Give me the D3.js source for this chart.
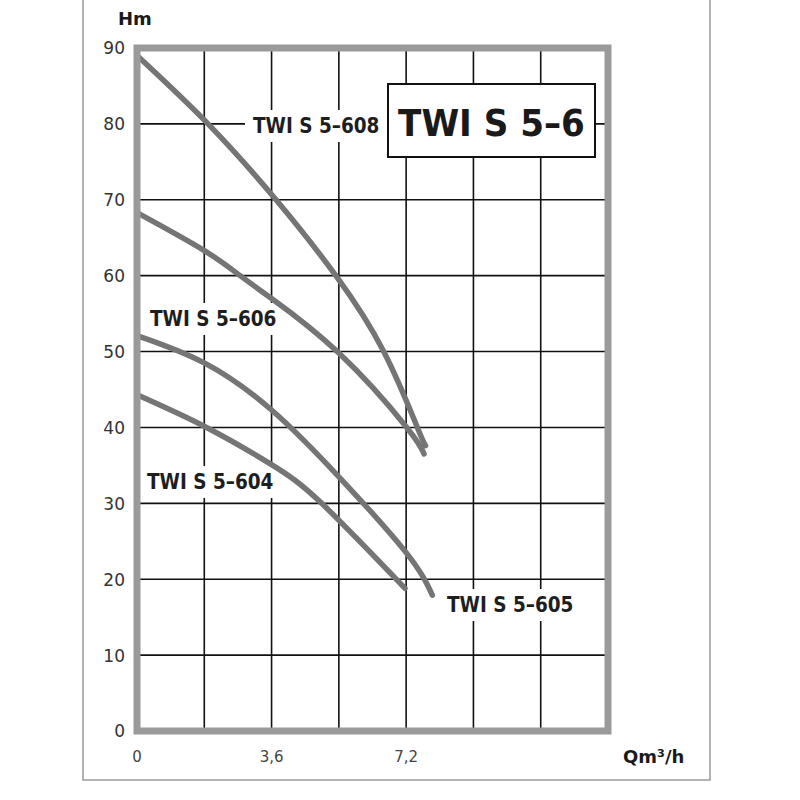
<!DOCTYPE html>
<html>
<head>
<meta charset="utf-8">
<script src="https://cdn.jsdelivr.net/npm/d3@7"></script>
<style>
  html, body { margin: 0; padding: 0; background: #fff; }
  svg { display: block; }
</style>
</head>
<body>
<svg id="chart" width="800" height="800"></svg>
<script>
// ---- data ----
const title = "TWI S 5–6";
const yTicks = [0, 10, 20, 30, 40, 50, 60, 70, 80, 90];
const xGrid = [1.8, 3.6, 5.4, 7.2, 9.0, 10.8];
const xTickLabels = [0, 3.6, 7.2];
const xTickText = ["0", "3,6", "7,2"];

const q608 = [0, 1.9, 3.72, 5.32, 6.6, 7.5, 7.72];
const h608 = [89, 80, 70, 60, 50, 40, 37.6];
const q606 = [0, 1.8, 2.76, 3.6, 5.4, 7.2, 7.68];
const h606 = [68.3, 63.3, 60, 57, 49.8, 40.1, 36.5];
const q605 = [0, 1.8, 3.6, 5.4, 7.2, 7.9];
const h605 = [52.1, 48.5, 42.3, 33.5, 23.5, 17.9];
const q604 = [0, 1.86, 3.6, 4.94, 7.17];
const h604 = [44.3, 40, 35.1, 30, 18.8];

const seriesNames = ["TWI S 5–608", "TWI S 5–606", "TWI S 5–605", "TWI S 5–604"];

// ---- layout ----
const svg = d3.select("#chart");
const x = d3.scaleLinear().domain([0, 12.6]).range([137, 608]);
const y = d3.scaleLinear().domain([0, 90]).range([731, 48]);

// outer frame
svg.append("path")
  .attr("d", "M83,0 V780 H710 V0")
  .attr("fill", "none").attr("stroke", "#9b9b9b").attr("stroke-width", 1.5);

// grid
const g = svg.append("g");
g.selectAll(".hg").data(yTicks.filter(d => d > 0 && d < 90)).enter().append("line")
  .attr("x1", x(0)).attr("x2", x(12.6))
  .attr("y1", d => y(d)).attr("y2", d => y(d))
  .attr("stroke", "#111").attr("stroke-width", 1.6);
g.selectAll(".vg").data(xGrid).enter().append("line")
  .attr("x1", d => x(d)).attr("x2", d => x(d))
  .attr("y1", y(0)).attr("y2", y(90))
  .attr("stroke", "#111").attr("stroke-width", 1.6);

// series labels with white background
const labelFont = "'DejaVu Sans Condensed', 'DejaVu Sans', sans-serif";
const labelPos = [
  {name: seriesNames[0], lx: 253, ly: 133},
  {name: seriesNames[1], lx: 150, ly: 326},
  {name: seriesNames[2], lx: 447, ly: 612},
  {name: seriesNames[3], lx: 147, ly: 489}
];
labelPos.forEach(p => {
  const t = svg.append("text")
    .attr("x", p.lx).attr("y", p.ly)
    .attr("font-family", labelFont).attr("font-weight", "bold")
    .attr("font-size", 20.5).attr("fill", "#1e1e1e")
    .text(p.name);
  const bb = t.node().getBBox();
  svg.insert("rect", "text")
    .attr("x", bb.x - 8).attr("y", bb.y - 4)
    .attr("width", bb.width + 16).attr("height", bb.height + 8)
    .attr("fill", "#fff");
});

// curves
const line = d3.line().x(d => x(d[0])).y(d => y(d[1])).curve(d3.curveNatural);
const curves = [[q608, h608], [q606, h606], [q605, h605], [q604, h604]];
svg.append("g").selectAll("path").data(curves).enter().append("path")
  .attr("d", d => line(d3.zip(d[0], d[1])))
  .attr("fill", "none").attr("stroke", "#757575")
  .attr("stroke-width", 5.5).attr("stroke-linecap", "round");

// plot frame
svg.append("rect")
  .attr("x", x(0)).attr("y", y(90))
  .attr("width", x(12.6) - x(0)).attr("height", y(0) - y(90))
  .attr("fill", "none").attr("stroke", "#9a9a9a").attr("stroke-width", 7);

// title box
svg.append("rect")
  .attr("x", 388).attr("y", 84).attr("width", 207).attr("height", 73)
  .attr("fill", "#fff").attr("stroke", "#111").attr("stroke-width", 2);
svg.append("text")
  .attr("x", 491.5).attr("y", 136).attr("text-anchor", "middle")
  .attr("font-family", labelFont).attr("font-weight", "bold")
  .attr("font-size", 38).attr("fill", "#1a1a1a")
  .text(title);

// y axis labels
svg.append("g").selectAll("text").data(yTicks).enter().append("text")
  .attr("x", 125).attr("y", d => y(d)).attr("dy", "0.38em")
  .attr("text-anchor", "end")
  .attr("font-family", "'DejaVu Sans', sans-serif").attr("font-size", 17)
  .attr("fill", "#333")
  .text(d => d);

// x axis labels
svg.append("g").selectAll("text").data(xTickLabels).enter().append("text")
  .attr("x", d => x(d)).attr("y", 762).attr("text-anchor", "middle")
  .attr("font-family", "'DejaVu Sans', sans-serif").attr("font-size", 15)
  .attr("fill", "#444")
  .text((d, i) => xTickText[i]);

// axis titles
svg.append("text").attr("x", 118).attr("y", 25)
  .attr("font-family", "'DejaVu Sans', sans-serif").attr("font-weight", "bold")
  .attr("font-size", 18).attr("fill", "#1a1a1a").text("Hm");
svg.append("text").attr("x", 623).attr("y", 763)
  .attr("font-family", "'DejaVu Sans', sans-serif").attr("font-weight", "bold")
  .attr("font-size", 18).attr("fill", "#1a1a1a").text("Qm³/h");
</script>
</body>
</html>
